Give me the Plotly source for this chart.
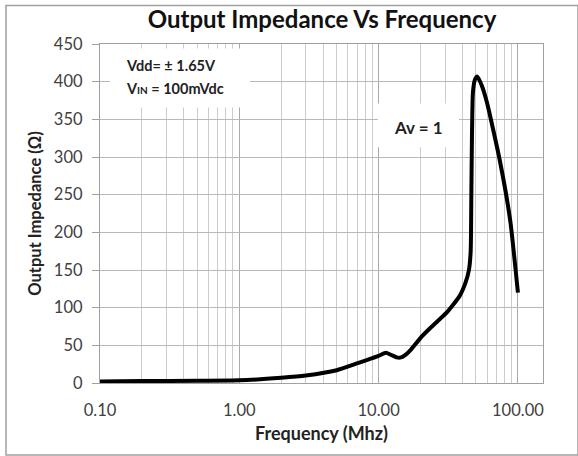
import plotly.graph_objects as go

# Data
freq_mhz = [0.1, 0.2, 0.5, 1.0, 2.0, 3.0, 5.0, 7.0, 9.0, 10.0, 11.3, 12.2, 13.5, 14.5,
            15.5, 17.0, 20.0, 23.5, 31.0, 38.0, 42.0, 44.5, 45.8, 46.3, 46.8, 47.5,
            49.0, 51.0, 55.0, 60.0, 74.0, 88.0, 100.0]
impedance = [2, 2.5, 3, 3.5, 7, 10, 17, 26, 33, 36, 40, 37.5, 34, 34,
             37, 44, 60, 73, 94, 115, 133, 150, 175, 250, 330, 385,
             402, 407, 395, 372, 296, 216, 120]

x_tick_vals = [0.1, 1, 10, 100]
x_tick_text = ["0.10", "1.00", "10.00", "100.00"]
x_minor_vals = [m * d for d in (0.1, 1, 10) for m in range(2, 10)]
y_tick_vals = list(range(0, 451, 50))

title_text = "Output Impedance Vs Frequency"
x_title = "Frequency (Mhz)"
y_title = "Output Impedance (Ω)"
note1 = "Vdd= ± 1.65V"
note2 = "V<span style='font-size:10px'>IN</span> = 100mVdc"
note3 = "Av = 1"

FONT = "Lato, 'Open Sans', sans-serif"

fig = go.Figure()
fig.add_trace(go.Scatter(
    x=freq_mhz, y=impedance, mode="lines",
    line=dict(color="black", width=4, shape="spline", smoothing=0.5),
    showlegend=False, hoverinfo="skip",
))

W, H = 578, 456
L, R, T, B = 100, 35, 43.5, 73
pw, ph = W - L - R, H - T - B


def px(x):
    return (x - L) / pw


def py(y):
    return (H - B - y) / ph


fig.update_layout(
    width=W, height=H,
    margin=dict(l=L, r=R, t=T, b=B, pad=0),
    paper_bgcolor="white", plot_bgcolor="white",
    font=dict(family=FONT, color="#404040", size=16.5),
    title=dict(text=f"<b>{title_text}</b>", x=322 / W, xanchor="center",
               xref="container", y=1 - 20 / H, yanchor="middle", yref="container",
               font=dict(size=24, color="#111111", family=FONT)),
    xaxis=dict(
        type="log", range=[-1, 2.18],
        tickmode="array", tickvals=x_tick_vals, ticktext=x_tick_text,
        showgrid=True, gridcolor="#a8a8a8", gridwidth=1.3,
        minor=dict(tickmode="array", tickvals=x_minor_vals, showgrid=True,
                   gridcolor="#cccccc", gridwidth=1.3, ticks=""),
        showline=True, linecolor="#a0a0a0", linewidth=1.3, mirror=True,
        ticks="", ticklabelstandoff=12,
        title=dict(text=f"<b>{x_title}</b>", font=dict(size=18, color="#222222"), standoff=8),
        zeroline=False, fixedrange=True,
    ),
    yaxis=dict(
        range=[0, 450], tickmode="array", tickvals=y_tick_vals,
        showgrid=True, gridcolor="#b8b8b8", gridwidth=1.3,
        showline=True, linecolor="#a0a0a0", linewidth=1.3, mirror=True,
        ticks="outside", ticklen=7, tickcolor="#a0a0a0", tickwidth=1.3,
        ticklabelstandoff=6,
        title=dict(text=f"<b>{y_title}</b>", font=dict(size=16.5, color="#222222"), standoff=8),
        zeroline=False, fixedrange=True,
    ),
)

# white boxes behind the text notes (they hide the gridlines in the reference)
fig.add_shape(type="rect", xref="paper", yref="paper",
              x0=px(110), x1=px(250), y0=py(107), y1=py(48),
              fillcolor="white", line=dict(width=0), layer="above")
fig.add_shape(type="rect", xref="paper", yref="paper",
              x0=px(378), x1=px(459), y0=py(147), y1=py(103),
              fillcolor="white", line=dict(width=0), layer="above")

# outer chart border
fig.add_shape(type="rect", xref="paper", yref="paper",
              x0=px(6), x1=px(578), y0=py(455), y1=py(5),
              line=dict(color="#a0a0a0", width=1.5), fillcolor="rgba(0,0,0,0)")

fig.add_annotation(x=px(124), y=py(65), xref="paper", yref="paper",
                   text=f"<b>{note1}</b>", showarrow=False, xanchor="left", yanchor="middle",
                   font=dict(size=14.5, color="#222222", family=FONT))
fig.add_annotation(x=px(124), y=py(88), xref="paper", yref="paper",
                   text=f"<b>{note2}</b>", showarrow=False, xanchor="left", yanchor="middle",
                   font=dict(size=14.5, color="#222222", family=FONT))
fig.add_annotation(x=px(418), y=py(127), xref="paper", yref="paper",
                   text=f"<b>{note3}</b>", showarrow=False, xanchor="center", yanchor="middle",
                   font=dict(size=17, color="#222222", family=FONT))

fig.write_html("out.html")
